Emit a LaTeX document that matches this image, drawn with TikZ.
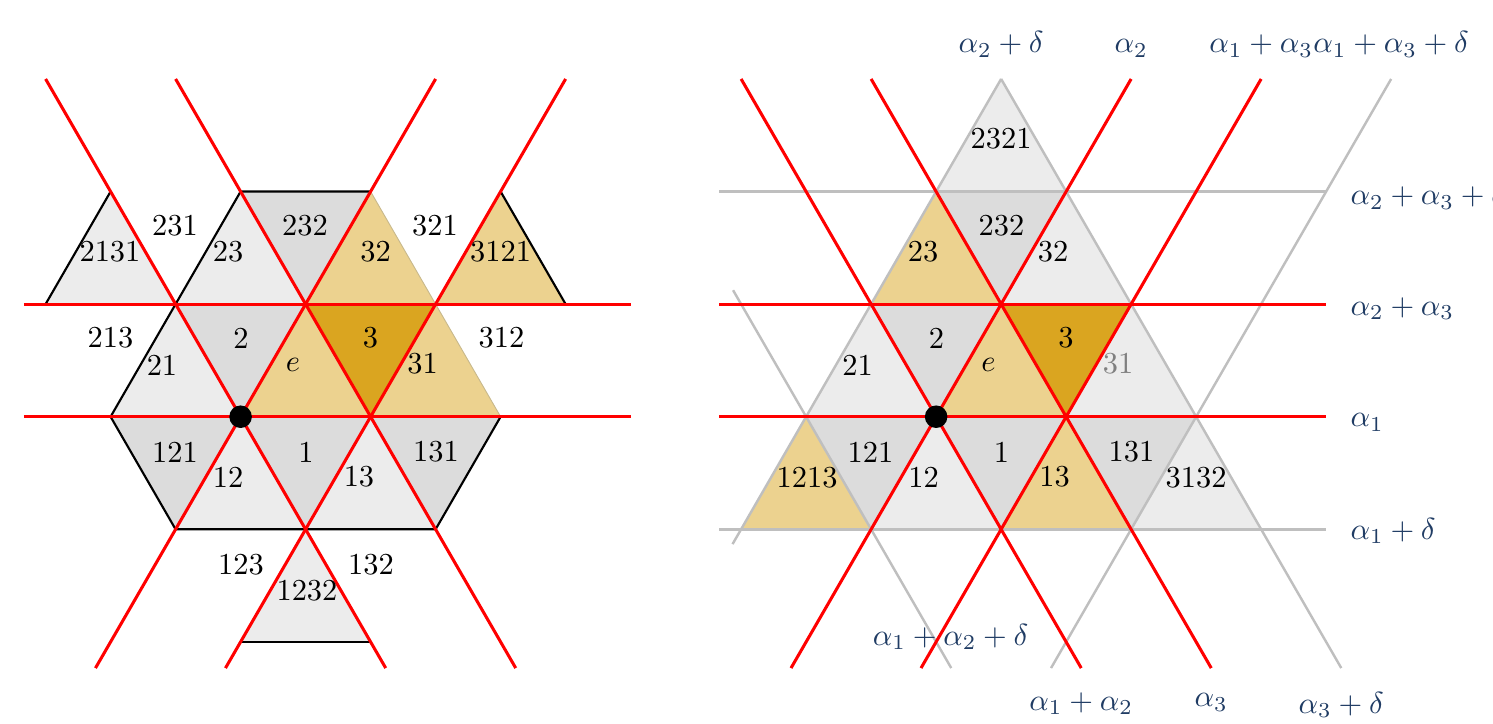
\documentclass[tikz,border=0pt]{standalone}
\definecolor{lgray}{RGB}{236,236,236}
\definecolor{dgray}{RGB}{220,220,220}
\definecolor{dgold}{RGB}{218,165,32}
\definecolor{lgold}{RGB}{236,210,143}
\definecolor{lblue}{RGB}{32,60,100}
\definecolor{hgray}{RGB}{191,191,191}
\definecolor{goldedge}{RGB}{200,185,140}
\pgfmathsetmacro\rowh{1.29904}
\begin{document}
\begin{tikzpicture}[
  redline/.style={red, line width=1pt},
  grayline/.style={hgray, line width=0.8pt},
  blackedge/.style={black, line width=0.7pt},
  num/.style={inner sep=0pt},
  root/.style={text=lblue, inner sep=0pt, anchor=base},
  rootw/.style={text=lblue, inner sep=0pt, anchor=base west},
]
\useasboundingbox (-2.776,-3.534) rectangle (14.450,4.808);
\clip (-2.776,-3.534) rectangle (14.450,4.808);

% ================= LEFT =================
\begin{scope}
% light gray
\fill[lgray] (-1.5,2*\rowh) -- (-2.25,\rowh) -- (-0.75,\rowh) -- cycle;
\fill[lgray] (0,2*\rowh) -- (-0.75,\rowh) -- (0.75,\rowh) -- cycle;
\fill[lgray] (-0.75,\rowh) -- (-1.5,0) -- (0,0) -- cycle;
\fill[lgray] (0,0) -- (-0.75,-\rowh) -- (0.75,-\rowh) -- cycle;
\fill[lgray] (1.5,0) -- (0.75,-\rowh) -- (2.25,-\rowh) -- cycle;
\fill[lgray] (0.75,-\rowh) -- (0,-2*\rowh) -- (1.5,-2*\rowh) -- cycle;
% dark gray
\fill[dgray] (0,2*\rowh) -- (1.5,2*\rowh) -- (0.75,\rowh) -- cycle;
\fill[dgray] (-0.75,\rowh) -- (0.75,\rowh) -- (0,0) -- cycle;
\fill[dgray] (-1.5,0) -- (0,0) -- (-0.75,-\rowh) -- cycle;
\fill[dgray] (0,0) -- (1.5,0) -- (0.75,-\rowh) -- cycle;
\fill[dgray] (1.5,0) -- (3,0) -- (2.25,-\rowh) -- cycle;
% gold
\fill[lgold] (1.5,2*\rowh) -- (0.75,\rowh) -- (2.25,\rowh) -- cycle;
\fill[lgold] (3,2*\rowh) -- (2.25,\rowh) -- (3.75,\rowh) -- cycle;
\fill[lgold] (0.75,\rowh) -- (0,0) -- (1.5,0) -- cycle;
\fill[lgold] (2.25,\rowh) -- (1.5,0) -- (3,0) -- cycle;
\fill[dgold] (0.75,\rowh) -- (2.25,\rowh) -- (1.5,0) -- cycle;
\draw[goldedge, line width=0.3pt] (1.5,2*\rowh) -- (2.25,\rowh) -- (3,0);
% black outlines
\draw[blackedge] (-1.5,2*\rowh) -- (-2.25,\rowh);
\draw[blackedge] (1.5,2*\rowh) -- (0,2*\rowh) -- (-0.75,\rowh) -- (-1.5,0) -- (-0.75,-\rowh) -- (2.25,-\rowh) -- (3,0);
\draw[blackedge] (3,2*\rowh) -- (3.75,\rowh);
\draw[blackedge] (0,-2*\rowh) -- (1.5,-2*\rowh);
% red lines
\draw[redline] (-2.5,0) -- (4.5,0);
\draw[redline] (-2.5,\rowh) -- (4.5,\rowh);
\draw[redline] (-1.67432,-2.9) -- (2.25,3*\rowh);
\draw[redline] (-0.17432,-2.9) -- (3.75,3*\rowh);
\draw[redline] (-2.25,3*\rowh) -- (1.67432,-2.9);
\draw[redline] (-0.75,3*\rowh) -- (3.17432,-2.9);
\fill[black] (0,0) circle (0.13);
% labels
\node[num] (L2131) at (-1.507,1.900) {2131};
\node[num] (L231) at (-0.757,2.200) {231};
\node[num] (L23) at (-0.145,1.900) {23};
\node[num] (L232) at (0.743,2.200) {232};
\node[num] (L32) at (1.557,1.900) {32};
\node[num] (L321) at (2.243,2.200) {321};
\node[num] (L3121) at (2.999,1.900) {3121};
\node[num] (L213) at (-1.501,0.908) {213};
\node[num] (L2) at (0.005,0.908) {2};
\node[num] (L3) at (1.499,0.908) {3};
\node[num] (L312) at (3.010,0.908) {312};
\node[num] (L21) at (-0.907,0.597) {21};
\node[num] (Le) at (0.605,0.597) {$e$};
\node[num] (L31) at (2.099,0.608) {31};
\node[num] (L121) at (-0.757,-0.407) {121};
\node[num] (L1) at (0.755,-0.407) {1};
\node[num] (L131) at (2.255,-0.407) {131};
\node[num] (L12) at (-0.145,-0.696) {12};
\node[num] (L13) at (1.366,-0.696) {13};
\node[num] (L123) at (0.005,-1.711) {123};
\node[num] (L132) at (1.505,-1.711) {132};
\node[num] (L1232) at (0.766,-2.011) {1232};
\end{scope}

% ================= RIGHT =================
\begin{scope}[shift={(8.025,0)}]
% light gray
\fill[lgray] (0.75,3*\rowh) -- (0,2*\rowh) -- (1.5,2*\rowh) -- cycle;
\fill[lgray] (1.5,2*\rowh) -- (0.75,\rowh) -- (2.25,\rowh) -- cycle;
\fill[lgray] (-0.75,\rowh) -- (-1.5,0) -- (0,0) -- cycle;
\fill[lgray] (2.25,\rowh) -- (1.5,0) -- (3,0) -- cycle;
\fill[lgray] (0,0) -- (-0.75,-\rowh) -- (0.75,-\rowh) -- cycle;
\fill[lgray] (3,0) -- (2.25,-\rowh) -- (3.75,-\rowh) -- cycle;
% dark gray
\fill[dgray] (0,2*\rowh) -- (1.5,2*\rowh) -- (0.75,\rowh) -- cycle;
\fill[dgray] (-0.75,\rowh) -- (0.75,\rowh) -- (0,0) -- cycle;
\fill[dgray] (-1.5,0) -- (0,0) -- (-0.75,-\rowh) -- cycle;
\fill[dgray] (0,0) -- (1.5,0) -- (0.75,-\rowh) -- cycle;
\fill[dgray] (1.5,0) -- (3,0) -- (2.25,-\rowh) -- cycle;
% gold
\fill[lgold] (0,2*\rowh) -- (-0.75,\rowh) -- (0.75,\rowh) -- cycle;
\fill[lgold] (0.75,\rowh) -- (0,0) -- (1.5,0) -- cycle;
\fill[lgold] (-1.5,0) -- (-2.25,-\rowh) -- (-0.75,-\rowh) -- cycle;
\fill[lgold] (1.5,0) -- (0.75,-\rowh) -- (2.25,-\rowh) -- cycle;
\fill[dgold] (0.75,\rowh) -- (2.25,\rowh) -- (1.5,0) -- cycle;
% gray lines
\draw[grayline] (-2.5,2*\rowh) -- (4.5,2*\rowh);
\draw[grayline] (-2.5,-\rowh) -- (4.5,-\rowh);
\draw[grayline] (0.75,3*\rowh) -- (-2.349,-1.47);
\draw[grayline] (-2.343,1.46) -- (0.17432,-2.9);
\draw[grayline] (5.25,3*\rowh) -- (1.32568,-2.9);
\draw[grayline] (0.75,3*\rowh) -- (4.67432,-2.9);
% red lines
\draw[redline] (-2.5,0) -- (4.5,0);
\draw[redline] (-2.5,\rowh) -- (4.5,\rowh);
\draw[redline] (-1.67432,-2.9) -- (2.25,3*\rowh);
\draw[redline] (-0.17432,-2.9) -- (3.75,3*\rowh);
\draw[redline] (-2.25,3*\rowh) -- (1.67432,-2.9);
\draw[redline] (-0.75,3*\rowh) -- (3.17432,-2.9);
\fill[black] (0,0) circle (0.13);
% region labels
\node[num] (R2321) at (0.749,3.203) {2321};
\node[num] (R232) at (0.755,2.200) {232};
\node[num] (R23) at (-0.151,1.900) {23};
\node[num] (R32) at (1.349,1.900) {32};
\node[num] (R21) at (-0.907,0.597) {21};
\node[num] (R2) at (0.005,0.908) {2};
\node[num] (Re) at (0.605,0.597) {$e$};
\node[num] (R3) at (1.499,0.908) {3};
\node[num, text=black!50] (R31) at (2.099,0.608) {31};
\node[num] (R121) at (-0.757,-0.407) {121};
\node[num] (R1213) at (-1.488,-0.707) {1213};
\node[num] (R12) at (-0.145,-0.696) {12};
\node[num] (R1) at (0.755,-0.407) {1};
\node[num] (R13) at (1.366,-0.696) {13};
\node[num] (R131) at (2.255,-0.407) {131};
\node[num] (R3132) at (3.0,-0.707) {3132};
% root labels
\node[root] (a2d) at (0.75,4.2) {$\alpha_2+\delta$};
\node[root] (a2) at (2.25,4.2) {$\alpha_2$};
\node[root] (a13) at (3.75,4.2) {$\alpha_1+\alpha_3$};
\node[root] (a13d) at (5.25,4.2) {$\alpha_1+\alpha_3+\delta$};
\node[rootw] (a23d) at (4.775,2.443) {$\alpha_2+\alpha_3+\delta$};
\node[rootw] (a23) at (4.775,1.173) {$\alpha_2+\alpha_3$};
\node[rootw] (a1) at (4.775,-0.115) {$\alpha_1$};
\node[rootw] (a1d) at (4.775,-1.412) {$\alpha_1+\delta$};
\node[root] (a12d) at (0.167,-2.634) {$\alpha_1+\alpha_2+\delta$};
\node[root] (a12) at (1.674,-3.384) {$\alpha_1+\alpha_2$};
\node[root] (a3) at (3.174,-3.346) {$\alpha_3$};
\node[root] (a3d) at (4.674,-3.42) {$\alpha_3+\delta$};
\end{scope}
\end{tikzpicture}
\end{document}
